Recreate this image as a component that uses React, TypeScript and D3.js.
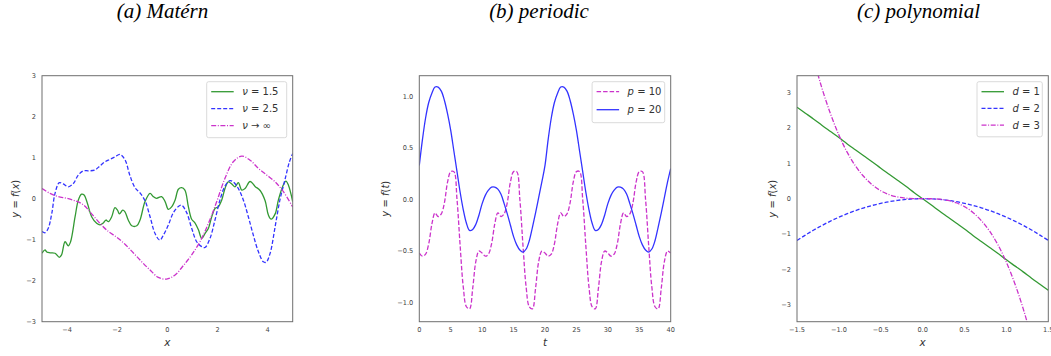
import * as d3 from "d3";
import { useEffect, useRef } from "react";

// ---------- data ----------

// (a) Matérn samples, [x, y]
const maternNu15: [number, number][] = [
  [-5, -1.33], [-4.88, -1.25], [-4.81, -1.3], [-4.68, -1.32], [-4.48, -1.33], [-4.31, -1.43],
  [-4.22, -1.37], [-4.08, -1.05], [-3.95, -1.15], [-3.86, -1.05], [-3.68, -0.44], [-3.55, -0.03],
  [-3.42, 0.11], [-3.32, 0.09], [-3.19, -0.11], [-3.02, -0.44], [-2.82, -0.6], [-2.69, -0.64],
  [-2.55, -0.59], [-2.45, -0.52], [-2.35, -0.56], [-2.22, -0.44], [-2.09, -0.22], [-1.99, -0.28],
  [-1.91, -0.37], [-1.78, -0.28], [-1.69, -0.32], [-1.56, -0.52], [-1.42, -0.66], [-1.22, -0.66],
  [-1.09, -0.52], [-0.89, -0.07], [-0.69, 0.13], [-0.56, 0.05], [-0.43, 0.01], [-0.23, 0.05],
  [-0.09, -0.07], [0.04, -0.26], [0.17, -0.2], [0.31, -0.03], [0.44, 0.23], [0.57, 0.27],
  [0.7, 0.21], [0.84, -0.2], [0.97, -0.5], [1.1, -0.59], [1.24, -0.76], [1.37, -0.97],
  [1.5, -0.85], [1.64, -0.72], [1.77, -0.44], [1.9, -0.24], [2.03, -0.2], [2.17, -0.03],
  [2.3, 0.25], [2.43, 0.41], [2.57, 0.36], [2.7, 0.29], [2.83, 0.39], [2.97, 0.21],
  [3.1, 0.25], [3.3, 0.42], [3.5, 0.3], [3.7, 0.2], [3.9, -0.05], [4.03, -0.4],
  [4.14, -0.5], [4.3, -0.37], [4.43, -0.03], [4.6, 0.3], [4.73, 0.43], [4.83, 0.33], [5, -0.07],
];

const maternNu25: [number, number][] = [
  [-5, -0.8], [-4.88, -0.83], [-4.75, -0.72], [-4.61, -0.36], [-4.48, 0.13], [-4.31, 0.39],
  [-4.15, 0.36], [-3.95, 0.29], [-3.75, 0.37], [-3.55, 0.58], [-3.35, 0.68], [-3.15, 0.68],
  [-2.89, 0.7], [-2.69, 0.8], [-2.49, 0.9], [-2.29, 0.96], [-2.09, 1.02], [-1.89, 1.08],
  [-1.69, 0.95], [-1.49, 0.56], [-1.29, 0.27], [-1.09, 0.14], [-0.89, -0.05], [-0.69, -0.44],
  [-0.49, -0.85], [-0.3, -1.01], [-0.16, -0.89], [0.04, -0.64], [0.24, -0.34], [0.44, -0.19],
  [0.57, -0.16], [0.77, -0.34], [0.97, -0.72], [1.17, -1.05], [1.37, -1.17], [1.5, -1.19],
  [1.7, -0.97], [1.9, -0.52], [2.1, -0.03], [2.3, 0.31], [2.5, 0.44], [2.63, 0.41],
  [2.83, 0.25], [3.03, -0.03], [3.23, -0.44], [3.43, -0.89], [3.63, -1.29], [3.83, -1.54],
  [3.94, -1.55], [4.1, -1.33], [4.3, -0.68], [4.49, -0.03], [4.69, 0.46], [4.87, 0.9], [5, 1.1],
];

const maternNuInf: [number, number][] = [
  [-5, 0.25], [-4.68, 0.13], [-4.35, 0.05], [-4.02, 0.01], [-3.68, -0.05], [-3.35, -0.15],
  [-3.02, -0.37], [-2.69, -0.6], [-2.35, -0.8], [-2.02, -0.94], [-1.69, -1.11], [-1.36, -1.32],
  [-1.02, -1.54], [-0.69, -1.74], [-0.36, -1.92], [-0.03, -1.96], [0.31, -1.86], [0.64, -1.63],
  [0.97, -1.37], [1.3, -1.05], [1.64, -0.6], [1.97, -0.07], [2.3, 0.5], [2.63, 0.9],
  [2.97, 1.04], [3.3, 0.94], [3.63, 0.74], [3.96, 0.58], [4.3, 0.41], [4.63, 0.17], [5, -0.2],
];

// (b) periodic samples on t = 0, 0.5, ..., 40
const tGrid = d3.range(0, 40.01, 0.5);
const periodicP10 = [
  -0.52, -0.55, -0.53, -0.43, -0.24, -0.13, -0.165, -0.14, -0.03, 0.17, 0.27, 0.27, 0.0, -0.45, -0.85, -1.04, -1.06, -0.86, -0.6, -0.5,
  -0.52, -0.55, -0.53, -0.43, -0.24, -0.13, -0.165, -0.14, -0.03, 0.17, 0.27, 0.27, 0.0, -0.45, -0.85, -1.04, -1.06, -0.86, -0.6, -0.5,
  -0.52, -0.55, -0.53, -0.43, -0.24, -0.13, -0.165, -0.14, -0.03, 0.17, 0.27, 0.27, 0.0, -0.45, -0.85, -1.04, -1.06, -0.86, -0.6, -0.5,
  -0.52, -0.55, -0.53, -0.43, -0.24, -0.13, -0.165, -0.14, -0.03, 0.17, 0.27, 0.27, 0.0, -0.45, -0.85, -1.04, -1.06, -0.86, -0.6, -0.5,
  -0.52,
];
const periodicP20 = [
  0.33, 0.58, 0.79, 0.94, 1.03, 1.09, 1.09, 1.05, 0.96, 0.83, 0.67, 0.47, 0.27, 0.07, -0.1, -0.23, -0.3, -0.29, -0.24, -0.15,
  -0.04, 0.04, 0.09, 0.12, 0.12, 0.1, 0.05, -0.04, -0.14, -0.25, -0.36, -0.44, -0.49, -0.51, -0.48, -0.4, -0.27, -0.13, 0.02, 0.17,
  0.33, 0.58, 0.79, 0.94, 1.03, 1.09, 1.09, 1.05, 0.96, 0.83, 0.67, 0.47, 0.27, 0.07, -0.1, -0.23, -0.3, -0.29, -0.24, -0.15,
  -0.04, 0.04, 0.09, 0.12, 0.12, 0.1, 0.05, -0.04, -0.14, -0.25, -0.36, -0.44, -0.49, -0.51, -0.48, -0.4, -0.27, -0.13, 0.02, 0.17,
  0.3,
];

// (c) polynomial samples
const polyX = [
  -1.5, -1.4, -1.3, -1.2, -1.1, -1.0, -0.9, -0.8, -0.7, -0.6, -0.5, -0.4, -0.3, -0.2, -0.1, 0,
  0.1, 0.2, 0.3, 0.4, 0.5, 0.6, 0.7, 0.8, 0.9, 1.0, 1.1, 1.2, 1.3, 1.4, 1.5,
];
const polyD1 = [
  2.59, 2.42, 2.25, 2.07, 1.9, 1.73, 1.55, 1.38, 1.21, 1.04, 0.86, 0.69, 0.52, 0.35, 0.17, 0,
  -0.17, -0.35, -0.52, -0.69, -0.86, -1.04, -1.21, -1.38, -1.55, -1.73, -1.9, -2.07, -2.25, -2.42, -2.59,
];
const polyD2 = [
  -1.18, -1.03, -0.886, -0.755, -0.634, -0.524, -0.424, -0.335, -0.257, -0.189, -0.131, -0.084, -0.047, -0.021, -0.005, 0,
  -0.005, -0.021, -0.047, -0.084, -0.131, -0.189, -0.257, -0.335, -0.424, -0.524, -0.634, -0.755, -0.886, -1.03, -1.18,
];
const polyD3 = [
  6.08, 4.94, 3.95, 3.11, 2.4, 1.8, 1.31, 0.92, 0.62, 0.39, 0.225, 0.115, 0.049, 0.014, 0.002, 0,
  -0.002, -0.014, -0.049, -0.115, -0.225, -0.39, -0.62, -0.92, -1.31, -1.8, -2.4, -3.11, -3.95, -4.94, -6.08,
];

// ticks
const maternXTicks = [-4, -2, 0, 2, 4];
const maternYTicks = [-3, -2, -1, 0, 1, 2, 3];
const periodicXTicks = [0, 5, 10, 15, 20, 25, 30, 35, 40];
const periodicYTicks = [-1, -0.5, 0, 0.5, 1];
const polyXTicks = [-1.5, -1, -0.5, 0, 0.5, 1, 1.5];
const polyYTicks = [-3, -2, -1, 0, 1, 2, 3];

// ---------- styling ----------
const GREEN = "#339933";
const BLUE = "#3333ff";
const MAGENTA = "#cb33cb";
const TICK_FONT = "DejaVu Sans, sans-serif";

type Piece = [string, boolean]; // text, italic
type Series = { pts: [number, number][]; color: string; dash: string | null; label: Piece[] };
type PanelCfg = {
  id: string;
  box: { x0: number; x1: number; y0: number; y1: number };
  xDomain: [number, number];
  yDomain: [number, number];
  xTicks: number[];
  yTicks: number[];
  xFmt: (d: number) => string;
  yFmt: (d: number) => string;
  series: Series[];
  legendW: number;
  legendRow: number;
  xlabel: Piece[];
  ylabel: Piece[];
  ylabelX: number;
  title: string;
  titleX: number;
};

const DASH = "4,2";
const DASHDOT = "5,1.6,1,1.6";

function addPieces(text: any, pieces: Piece[]) {
  pieces.forEach(([t, it]) => {
    text.append("tspan").attr("font-style", it ? "italic" : "normal").text(t);
  });
}

function drawPanel(svg: d3.Selection<SVGSVGElement, unknown, null, undefined>, c: PanelCfg) {
  const { box } = c;
  const x = d3.scaleLinear().domain(c.xDomain).range([box.x0, box.x1]);
  const y = d3.scaleLinear().domain(c.yDomain).range([box.y1, box.y0]);

  svg
    .append("defs")
    .append("clipPath")
    .attr("id", `clip-${c.id}`)
    .append("rect")
    .attr("x", box.x0)
    .attr("y", box.y0)
    .attr("width", box.x1 - box.x0)
    .attr("height", box.y1 - box.y0);

  const g = svg.append("g").attr("clip-path", `url(#clip-${c.id})`);
  const line = d3
    .line<[number, number]>()
    .x((d) => x(d[0]))
    .y((d) => y(d[1]))
    .curve(d3.curveCatmullRom.alpha(0.5));

  c.series.forEach((s) => {
    g.append("path")
      .attr("d", line(s.pts))
      .attr("fill", "none")
      .attr("stroke", s.color)
      .attr("stroke-width", 1.3)
      .attr("stroke-dasharray", s.dash ?? null);
  });

  // frame
  svg
    .append("rect")
    .attr("x", box.x0)
    .attr("y", box.y0)
    .attr("width", box.x1 - box.x0)
    .attr("height", box.y1 - box.y0)
    .attr("fill", "none")
    .attr("stroke", "#6e6e6e")
    .attr("stroke-width", 1);

  // tick labels
  svg
    .append("g")
    .selectAll("text")
    .data(c.xTicks)
    .join("text")
    .attr("x", (d) => x(d))
    .attr("y", box.y1 + 10)
    .attr("text-anchor", "middle")
    .style("font-family", TICK_FONT)
    .style("font-size", "6.6px")
    .style("fill", "#444")
    .text((d) => c.xFmt(d));

  svg
    .append("g")
    .selectAll("text")
    .data(c.yTicks)
    .join("text")
    .attr("x", box.x0 - 6)
    .attr("y", (d) => y(d))
    .attr("dy", "0.35em")
    .attr("text-anchor", "end")
    .style("font-family", TICK_FONT)
    .style("font-size", "6.6px")
    .style("fill", "#444")
    .text((d) => c.yFmt(d));

  // axis labels
  const xl = svg
    .append("text")
    .attr("x", (box.x0 + box.x1) / 2)
    .attr("y", box.y1 + 24.5)
    .attr("text-anchor", "middle")
    .style("font-family", TICK_FONT)
    .style("font-size", "10.5px")
    .style("fill", "#333");
  addPieces(xl, c.xlabel);

  const yl = svg
    .append("text")
    .attr("transform", `translate(${c.ylabelX},${(box.y0 + box.y1) / 2}) rotate(-90)`)
    .attr("text-anchor", "middle")
    .style("font-family", TICK_FONT)
    .style("font-size", "10px")
    .style("fill", "#333");
  addPieces(yl, c.ylabel);

  // title
  svg
    .append("text")
    .attr("x", c.titleX)
    .attr("y", 17.5)
    .attr("text-anchor", "middle")
    .style("font-family", "Liberation Serif, Times New Roman, serif")
    .style("font-style", "italic")
    .style("font-size", "21px")
    .style("fill", "#000")
    .text(c.title);

  // legend
  const lx = box.x1 - 6 - c.legendW;
  const ly = box.y0 + 6;
  const lg = svg.append("g").attr("transform", `translate(${lx},${ly})`);
  lg.append("rect")
    .attr("width", c.legendW)
    .attr("height", c.series.length * c.legendRow + 5)
    .attr("rx", 2)
    .attr("fill", "white")
    .attr("fill-opacity", 0.85)
    .attr("stroke", "#d0d0d0")
    .attr("stroke-width", 0.8);

  const rows = lg
    .selectAll("g.row")
    .data(c.series)
    .join("g")
    .attr("class", "row")
    .attr("transform", (_d, i) => `translate(0,${10 + i * c.legendRow})`);

  rows
    .append("line")
    .attr("x1", 4.5)
    .attr("x2", 27)
    .attr("stroke", (d) => d.color)
    .attr("stroke-width", 1.3)
    .attr("stroke-dasharray", (d) => d.dash ?? null);

  rows.each(function (d) {
    const t = d3
      .select(this)
      .append("text")
      .attr("x", 35.5)
      .attr("dy", "0.35em")
      .style("font-family", TICK_FONT)
      .style("font-size", "10px")
      .style("fill", "#333");
    addPieces(t, d.label);
  });
}

const intFmt = d3.format("d");
const oneFmt = d3.format(".1f");
const yfx: Piece[] = [["y", true], [" = ", false], ["f", true], ["(", false], ["x", true], [")", false]];

export default function App() {
  const ref = useRef<SVGSVGElement>(null);

  useEffect(() => {
    if (!ref.current) return;
    const svg = d3.select(ref.current);
    svg.selectAll("*").remove();

    const top = 75.7;
    const bottom = 321.7;

    drawPanel(svg, {
      id: "a",
      box: { x0: 42, x1: 292.7, y0: top, y1: bottom },
      xDomain: [-5, 5],
      yDomain: [-3, 3],
      xTicks: maternXTicks,
      yTicks: maternYTicks,
      xFmt: intFmt,
      yFmt: intFmt,
      series: [
        { pts: maternNu15, color: GREEN, dash: null, label: [["ν", true], [" = 1.5", false]] },
        { pts: maternNu25, color: BLUE, dash: DASH, label: [["ν", true], [" = 2.5", false]] },
        { pts: maternNuInf, color: MAGENTA, dash: DASHDOT, label: [["ν", true], [" → ∞", false]] },
      ],
      legendW: 80,
      legendRow: 17,
      xlabel: [["x", true]],
      ylabel: yfx,
      ylabelX: 18.5,
      title: "(a) Matérn",
      titleX: 162.5,
    });

    drawPanel(svg, {
      id: "b",
      box: { x0: 419.3, x1: 670.7, y0: top, y1: bottom },
      xDomain: [0, 40],
      yDomain: [-1.185, 1.2],
      xTicks: periodicXTicks,
      yTicks: periodicYTicks,
      xFmt: intFmt,
      yFmt: oneFmt,
      series: [
        {
          pts: tGrid.map((t, i) => [t, periodicP10[i]] as [number, number]),
          color: MAGENTA,
          dash: "4.5,2",
          label: [["p", true], [" = 10", false]],
        },
        {
          pts: tGrid.map((t, i) => [t, periodicP20[i]] as [number, number]),
          color: BLUE,
          dash: null,
          label: [["p", true], [" = 20", false]],
        },
      ],
      legendW: 72.6,
      legendRow: 18,
      xlabel: [["t", true]],
      ylabel: [["y", true], [" = ", false], ["f", true], ["(", false], ["t", true], [")", false]],
      ylabelX: 388.5,
      title: "(b) periodic",
      titleX: 539,
    });

    drawPanel(svg, {
      id: "c",
      box: { x0: 797, x1: 1048.3, y0: top, y1: bottom },
      xDomain: [-1.5, 1.5],
      yDomain: [-3.48, 3.48],
      xTicks: polyXTicks,
      yTicks: polyYTicks,
      xFmt: oneFmt,
      yFmt: intFmt,
      series: [
        { pts: polyX.map((v, i) => [v, polyD1[i]] as [number, number]), color: GREEN, dash: null, label: [["d", true], [" = 1", false]] },
        { pts: polyX.map((v, i) => [v, polyD2[i]] as [number, number]), color: BLUE, dash: DASH, label: [["d", true], [" = 2", false]] },
        { pts: polyX.map((v, i) => [v, polyD3[i]] as [number, number]), color: MAGENTA, dash: DASHDOT, label: [["d", true], [" = 3", false]] },
      ],
      legendW: 65.3,
      legendRow: 16.7,
      xlabel: [["x", true]],
      ylabel: yfx,
      ylabelX: 775.5,
      title: "(c) polynomial",
      titleX: 918.5,
    });
  }, []);

  return (
    <svg
      ref={ref}
      width={1051}
      height={356}
      style={{ position: "absolute", left: 0, top: 0, background: "white" }}
    />
  );
}
